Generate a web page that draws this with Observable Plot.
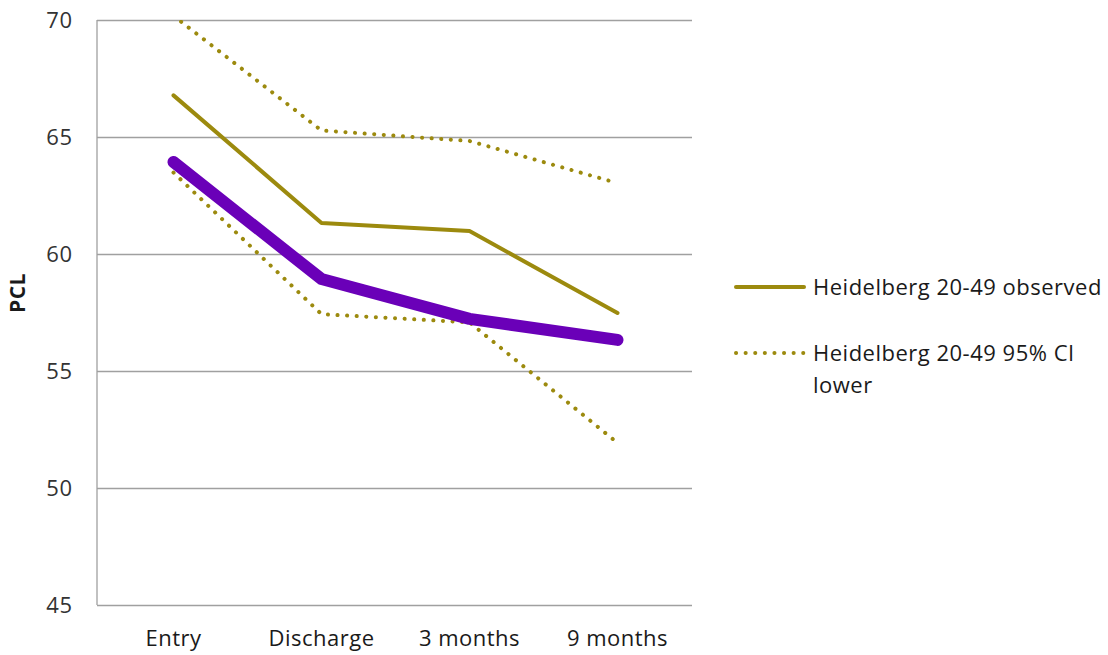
<!DOCTYPE html>
<html>
<head>
<meta charset="utf-8">
<script src="https://cdn.jsdelivr.net/npm/d3@7"></script>
<script src="https://cdn.jsdelivr.net/npm/@observablehq/plot@0.6"></script>
<style>
  html, body { margin: 0; padding: 0; background: #fff; }
  #wrap { position: relative; width: 1108px; height: 655px; font-family: "Open Sans", sans-serif; }
  #chart { position: absolute; left: 0; top: 0; }
  #legend { position: absolute; left: 733px; top: 270px; font-size: 22px; letter-spacing: 0.5px; color: #1a1a1a; }
  .item { display: flex; align-items: flex-start; }
  .item svg { flex: none; margin-right: 6px; }
  .item span { line-height: 32px; width: 298px; }
</style>
</head>
<body>
<div id="wrap">
  <div id="chart"></div>
  <div id="legend"></div>
</div>
<script>
const categories = ["Entry", "Discharge", "3 months", "9 months"];
const observed = [66.8, 61.35, 61.0, 57.5];
const ciUpper = [70.2, 65.3, 64.85, 63.05];
const ciLower = [63.5, 57.45, 57.1, 51.95];
const purpleSeries = [63.95, 58.95, 57.25, 56.35];
const yTicks = [45, 50, 55, 60, 65, 70];
const legendLabels = ["Heidelberg 20-49 observed", "Heidelberg 20-49 95% CI lower"];

const olive = "#9c8a0e";
const purple = "#6a00b8";

const toRows = vals => categories.map((c, i) => ({cat: c, v: vals[i]}));

const chart = Plot.plot({
  width: 700,
  height: 655,
  marginLeft: 97,
  marginRight: 8,
  marginTop: 20,
  marginBottom: 50,
  style: {fontFamily: "Open Sans, sans-serif", fontSize: "22px", letterSpacing: "0.5px", color: "#1a1a1a", background: "#fff"},
  x: {type: "point", domain: categories, padding: 0.5, label: null},
  y: {domain: [45, 70], ticks: yTicks, label: null},
  marks: [
    Plot.gridY(yTicks, {stroke: "#a0a0a0", strokeOpacity: 1, strokeWidth: 1.3}),
    Plot.axisY(yTicks, {tickSize: 0, tickPadding: 25, fontSize: 22, fill: "#333"}),
    Plot.axisX(categories, {tickSize: 0, tickPadding: 25, fontSize: 22, fill: "#1a1a1a"}),
    Plot.text(["PCL"], {frameAnchor: "left", dx: -79, rotate: -90, fontWeight: "bold", fontSize: 21, fill: "#1a1a1a"}),
    Plot.line(toRows(ciUpper), {x: "cat", y: "v", stroke: olive, strokeWidth: 4, strokeDasharray: "0.1 9.5", strokeLinecap: "round", clip: true}),
    Plot.line(toRows(ciLower), {x: "cat", y: "v", stroke: olive, strokeWidth: 4, strokeDasharray: "0.1 9.5", strokeLinecap: "round", clip: true}),
    Plot.line(toRows(observed), {x: "cat", y: "v", stroke: olive, strokeWidth: 4, strokeLinecap: "round"}),
    Plot.line(toRows(purpleSeries), {x: "cat", y: "v", stroke: purple, strokeWidth: 12, strokeLinecap: "round", strokeLinejoin: "round"})
  ]
});
// left axis line
const svg = d3.select(chart);
svg.append("line").attr("x1", 97).attr("x2", 97).attr("y1", 20).attr("y2", 605)
  .attr("stroke", "#a0a0a0").attr("stroke-width", 1.3);
document.getElementById("chart").appendChild(chart);

const legend = document.getElementById("legend");
legendLabels.forEach((lab, i) => {
  const item = document.createElement("div");
  item.className = "item";
  item.style.marginBottom = i === 0 ? "34px" : "0";
  const dash = i === 0 ? "" : 'stroke-dasharray="0.1 9.5"';
  item.innerHTML = `<svg width="74" height="32"><line x1="3" x2="71" y1="17" y2="17" stroke="${olive}" stroke-width="4" stroke-linecap="round" ${dash}/></svg><span>${lab}</span>`;
  legend.appendChild(item);
});
</script>
</body>
</html>
